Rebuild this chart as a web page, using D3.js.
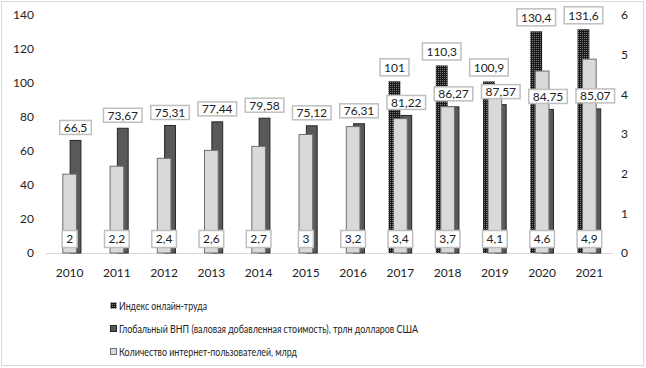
<!DOCTYPE html>
<html>
<head>
<meta charset="utf-8">
<script src="https://cdn.jsdelivr.net/npm/d3@7"></script>
<style>
  body { margin: 0; background: #fff; }
  svg text { font-family: Lato, "Liberation Sans", sans-serif; fill: #222; }
</style>
</head>
<body>
<div id="chart"></div>
<script>
// data
var years = ["2010", "2011", "2012", "2013", "2014", "2015", "2016", "2017", "2018", "2019", "2020", "2021"];
var onlineIndex = [null, null, null, null, null, null, null, 101, 110.3, 100.9, 130.4, 131.6];
var gnp = [66.5, 73.67, 75.31, 77.44, 79.58, 75.12, 76.31, 81.22, 86.27, 87.57, 84.75, 85.07];
var users = [2, 2.2, 2.4, 2.6, 2.7, 3, 3.2, 3.4, 3.7, 4.1, 4.6, 4.9];
var leftTicks = [0, 20, 40, 60, 80, 100, 120, 140];
var rightTicks = [0, 1, 2, 3, 4, 5, 6];
var seriesNames = [
  "Индекс онлайн-труда",
  "Глобальный ВНП (валовая добавленная стоимость), трлн долларов США",
  "Количество интернет-пользователей, млрд"
];

var width = 646, height = 368;
var plotLeft = 46, plotRight = 613, plotTop = 15, plotBottom = 253;

var svg = d3.select("#chart").append("svg")
  .attr("width", width)
  .attr("height", height);

// pattern for the index bars
var defs = svg.append("defs");
var pat = defs.append("pattern")
  .attr("id", "dots")
  .attr("width", 2).attr("height", 2)
  .attr("patternUnits", "userSpaceOnUse");
pat.append("rect").attr("width", 2).attr("height", 2).attr("fill", "#1a1a1a");
pat.append("rect").attr("x", 0).attr("y", 0).attr("width", 1).attr("height", 1).attr("fill", "#7a7a7a");

// outer frame
svg.append("rect")
  .attr("x", 1.5).attr("y", 1.5)
  .attr("width", 642).attr("height", 364)
  .attr("fill", "none")
  .attr("stroke", "#d9d9d9");

var x = d3.scaleBand()
  .domain(years)
  .range([plotLeft, plotRight]);

var yL = d3.scaleLinear().domain([0, 140]).range([plotBottom, plotTop]);
var yR = d3.scaleLinear().domain([0, 6]).range([plotBottom, plotTop]);

var bw = x.bandwidth();
var barW = bw * 0.25;
var lightW = bw * 0.31;
function cx(i) { return x(years[i]) + bw / 2; }

// axes
var leftAxis = svg.append("g")
  .attr("transform", "translate(" + (plotLeft - 12) + ",0)")
  .call(d3.axisLeft(yL).tickValues(leftTicks).tickSize(0).tickPadding(0));
var rightAxis = svg.append("g")
  .attr("transform", "translate(" + (plotRight + 8) + ",0)")
  .call(d3.axisRight(yR).tickValues(rightTicks).tickFormat(d3.format("d")).tickSize(0).tickPadding(0));
var bottomAxis = svg.append("g")
  .attr("transform", "translate(0," + plotBottom + ")")
  .call(d3.axisBottom(x).tickSize(0).tickPadding(15));

[leftAxis, rightAxis, bottomAxis].forEach(function (g) {
  g.select(".domain").remove();
  g.selectAll("text").style("font-size", "12px").style("font-family", "Lato, sans-serif").attr("fill", "#222");
});

svg.append("line")
  .attr("x1", plotLeft).attr("x2", plotRight)
  .attr("y1", plotBottom + 0.5).attr("y2", plotBottom + 0.5)
  .attr("stroke", "#d9d9d9");

// bars
var idxData = onlineIndex.map(function (v, i) { return {i: i, v: v}; }).filter(function (d) { return d.v != null; });

svg.selectAll(".idx").data(idxData).enter().append("rect")
  .attr("class", "idx")
  .attr("x", function (d) { return cx(d.i) - barW; })
  .attr("width", barW)
  .attr("y", function (d) { return yL(d.v); })
  .attr("height", function (d) { return plotBottom - yL(d.v); })
  .attr("fill", "url(#dots)");

svg.selectAll(".gnp").data(gnp).enter().append("rect")
  .attr("class", "gnp")
  .attr("x", function (d, i) { return cx(i) + 0.5; })
  .attr("width", barW - 1)
  .attr("y", function (d) { return yL(d) + 0.5; })
  .attr("height", function (d) { return plotBottom - yL(d) - 0.5; })
  .attr("fill", "#595959")
  .attr("stroke", "#262626");

svg.selectAll(".users").data(users).enter().append("rect")
  .attr("class", "users")
  .attr("x", function (d, i) { return cx(i) - lightW / 2 + 0.5; })
  .attr("width", lightW - 1)
  .attr("y", function (d) { return yR(d) + 0.5; })
  .attr("height", function (d) { return plotBottom - yR(d) - 0.5; })
  .attr("fill", "#d9d9d9")
  .attr("stroke", "#6f6f6f");

// data labels with white boxes
function fmt(v) { return String(v).replace(".", ","); }

function label(xc, yc, txt, boxH) {
  var g = svg.append("g");
  var rect = g.append("rect");
  var t = g.append("text")
    .attr("x", xc).attr("y", yc)
    .attr("text-anchor", "middle")
    .attr("dy", "0.36em")
    .style("font-size", "12px")
    .text(txt);
  var w = t.node().getComputedTextLength() + 8;
  rect.attr("x", xc - w / 2).attr("y", yc - boxH / 2)
    .attr("width", w).attr("height", boxH)
    .attr("fill", "#fff")
    .attr("stroke", "#bfbfbf")
    .attr("stroke-width", 1.5);
}

idxData.forEach(function (d) {
  label(cx(d.i) - barW / 2, yL(d.v) - 14, fmt(d.v), 17);
});
gnp.forEach(function (v, i) {
  label(cx(i) + barW / 2, yL(v) - 12.5, fmt(v), 14);
});
users.forEach(function (v, i) {
  label(cx(i), plotBottom - 14, fmt(v), 17);
});

// legend
var legendX = 110;
var legendY = [306, 329, 352];
var legendFills = ["url(#dots)", "#595959", "#d9d9d9"];
var legendStrokes = ["none", "#262626", "#6f6f6f"];
var legendLen = [88, 299, 178];

var leg = svg.selectAll(".leg").data(seriesNames).enter().append("g")
  .attr("class", "leg")
  .attr("transform", function (d, i) { return "translate(" + legendX + "," + legendY[i] + ")"; });

leg.append("rect")
  .attr("x", 0.5).attr("y", -3.5)
  .attr("width", 6).attr("height", 6)
  .attr("fill", function (d, i) { return legendFills[i]; })
  .attr("stroke", function (d, i) { return legendStrokes[i]; });

leg.append("text")
  .attr("x", 9).attr("y", 0)
  .attr("dy", "0.35em")
  .style("font-size", "12px")
  .attr("textLength", function (d, i) { return legendLen[i]; })
  .attr("lengthAdjust", "spacingAndGlyphs")
  .text(function (d) { return d; });
</script>
</body>
</html>
